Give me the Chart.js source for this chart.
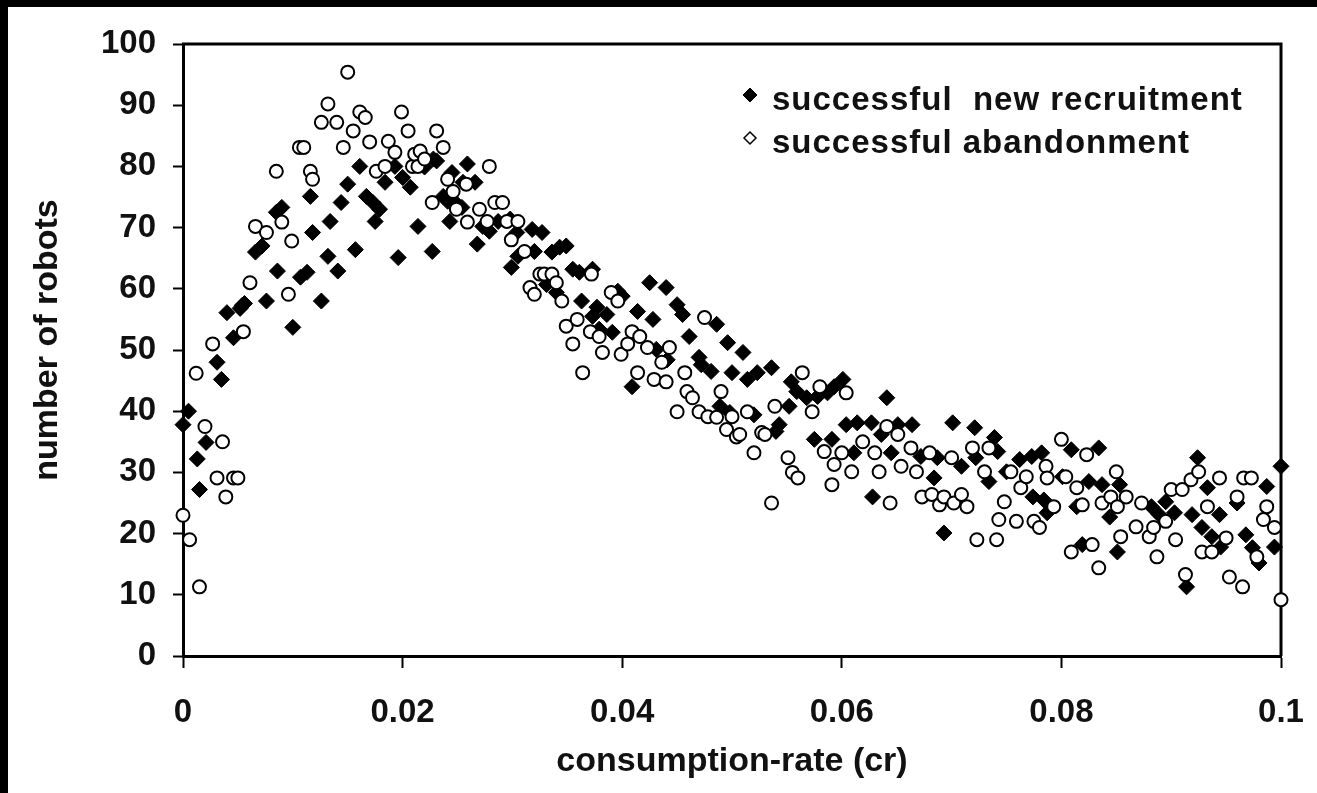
<!DOCTYPE html>
<html lang="en">
<head>
    <meta charset="UTF-8">
    <title>number of robots vs consumption-rate</title>
    <script src="https://cdn.jsdelivr.net/npm/chart.js"></script>
    <style>
        html, body { margin: 0; padding: 0; background: #fff; overflow: hidden; }
        #wrap { position: relative; width: 1317px; height: 793px; }
    </style>
</head>
<body>
    <div id="wrap">
        <canvas id="robots-chart"></canvas>
    </div>

    <script>
        // [consumption-rate, number of robots]
        const recruitment = [
            [0.0000, 37.8], [0.0005, 40], [0.0013, 32.2], [0.0015, 27.2], [0.0021, 34.9], [0.0031, 48],
            [0.0035, 45.2], [0.0040, 56.1], [0.0046, 52], [0.0052, 56.8], [0.0054, 57.3], [0.0056, 57.6],
            [0.0066, 66], [0.0072, 67], [0.0076, 58], [0.0085, 72.5], [0.0086, 62.9], [0.0090, 73.3],
            [0.0100, 53.7], [0.0107, 61.9], [0.0113, 62.7], [0.0116, 75.1], [0.0118, 69.2], [0.0126, 58],
            [0.0132, 65.3], [0.0134, 71], [0.0141, 62.9], [0.0144, 74.1], [0.0150, 77.1], [0.0157, 66.4],
            [0.0161, 80], [0.0167, 75.1], [0.0173, 74.1], [0.0175, 71], [0.0179, 73], [0.0184, 77.4],
            [0.0193, 80], [0.0196, 65.1], [0.0200, 78.2], [0.0207, 76.6], [0.0214, 70.2], [0.0220, 79.9],
            [0.0227, 66.1], [0.0228, 81.2], [0.0231, 80.9], [0.0237, 75.1], [0.0241, 74.3], [0.0243, 71],
            [0.0245, 79], [0.0248, 74.1], [0.0254, 73.3], [0.0255, 77.4], [0.0259, 80.4], [0.0266, 77.4],
            [0.0268, 67.3], [0.0273, 70.2], [0.0279, 69.4], [0.0287, 71], [0.0298, 71.4], [0.0299, 63.5],
            [0.0304, 69.2], [0.0305, 65.3], [0.0318, 69.7], [0.0320, 66.1], [0.0327, 69.2], [0.0331, 60.7],
            [0.0336, 66], [0.0340, 59.4], [0.0343, 66.8], [0.0349, 67], [0.0355, 63.2], [0.0361, 62.7],
            [0.0363, 58], [0.0373, 63.2], [0.0373, 55.5], [0.0377, 57], [0.0379, 53.4], [0.0386, 55.8],
            [0.0391, 52.9], [0.0396, 59.6], [0.0400, 58.8], [0.0409, 44], [0.0414, 56.3], [0.0425, 61],
            [0.0428, 55], [0.0431, 50.1], [0.0440, 60.2], [0.0441, 48.4], [0.0450, 57.4], [0.0455, 55.8],
            [0.0461, 52.2], [0.0470, 48.8], [0.0472, 47.6], [0.0481, 46.5], [0.0486, 54.2], [0.0489, 40.8],
            [0.0496, 51.2], [0.0498, 39.8], [0.0500, 46.3], [0.0510, 49.6], [0.0514, 45.2], [0.0520, 39.4],
            [0.0523, 46.3], [0.0536, 47.1], [0.0540, 36.7], [0.0543, 37.8], [0.0552, 40.8], [0.0554, 44.8],
            [0.0559, 43.2], [0.0568, 42.2], [0.0575, 35.4], [0.0578, 42.4], [0.0587, 43], [0.0591, 35.4],
            [0.0593, 44], [0.0601, 45.2], [0.0604, 37.8], [0.0611, 33.2], [0.0614, 38.1], [0.0627, 38.1],
            [0.0628, 26], [0.0636, 36.2], [0.0641, 42.2], [0.0645, 33.2], [0.0651, 37.8], [0.0664, 37.8],
            [0.0672, 32.6], [0.0684, 29.1], [0.0687, 32.4], [0.0693, 20.1], [0.0701, 38.1], [0.0709, 31],
            [0.0721, 37.3], [0.0722, 32.4], [0.0734, 28.5], [0.0739, 35.7], [0.0742, 33.4], [0.0750, 30.1],
            [0.0762, 32.1], [0.0773, 32.6], [0.0774, 26], [0.0782, 33.2], [0.0784, 25.5], [0.0787, 23.4],
            [0.0801, 29.3], [0.0809, 33.7], [0.0814, 24.4], [0.0819, 18.2], [0.0825, 28.5], [0.0834, 34],
            [0.0837, 28], [0.0844, 22.7], [0.0851, 17], [0.0853, 28], [0.0882, 24.4], [0.0889, 23.1],
            [0.0895, 25.2], [0.0903, 23.4], [0.0914, 11.3], [0.0919, 23.1], [0.0924, 32.4], [0.0928, 21],
            [0.0933, 27.5], [0.0937, 19.5], [0.0944, 23.1], [0.0945, 17.8], [0.0960, 25], [0.0968, 19.8],
            [0.0974, 17.7], [0.0980, 15.2], [0.0987, 27.7], [0.0994, 17.8], [0.1000, 31]
        ];

        const abandonment = [
            [0.0000, 23], [0.0006, 19], [0.0012, 46.2], [0.0015, 11.3], [0.0020, 37.5], [0.0027, 51],
            [0.0031, 29.1], [0.0036, 35], [0.0039, 26], [0.0046, 29.1], [0.0050, 29.1], [0.0055, 53],
            [0.0061, 61], [0.0066, 70.2], [0.0076, 69.2], [0.0085, 79.2], [0.0090, 70.9], [0.0096, 59.1],
            [0.0099, 67.8], [0.0106, 83.1], [0.0110, 83.1], [0.0116, 79.2], [0.0118, 77.9], [0.0126, 87.2],
            [0.0132, 90.2], [0.0140, 87.2], [0.0146, 83.1], [0.0150, 95.4], [0.0155, 85.8], [0.0161, 88.9],
            [0.0166, 88], [0.0170, 84], [0.0176, 79.2], [0.0184, 80], [0.0187, 84.1], [0.0193, 82.3],
            [0.0199, 88.9], [0.0205, 85.8], [0.0209, 80], [0.0211, 82], [0.0214, 80], [0.0216, 82.5],
            [0.0220, 81.2], [0.0227, 74.1], [0.0231, 85.8], [0.0237, 83.1], [0.0241, 77.9], [0.0246, 75.9],
            [0.0249, 73], [0.0258, 77.1], [0.0259, 70.9], [0.0270, 73], [0.0277, 71], [0.0279, 80],
            [0.0284, 74.1], [0.0291, 74.1], [0.0295, 71], [0.0299, 68], [0.0305, 71], [0.0311, 66.1],
            [0.0316, 60.2], [0.0320, 59.1], [0.0325, 62.4], [0.0329, 62.4], [0.0336, 62.4], [0.0340, 61],
            [0.0345, 58], [0.0349, 53.9], [0.0355, 51], [0.0359, 55], [0.0364, 46.3], [0.0371, 53],
            [0.0372, 62.4], [0.0379, 52.2], [0.0382, 49.6], [0.0390, 59.4], [0.0396, 58], [0.0399, 49.3],
            [0.0405, 51], [0.0409, 53], [0.0414, 46.3], [0.0416, 52.2], [0.0423, 50.4], [0.0429, 45.2],
            [0.0436, 48], [0.0440, 44.8], [0.0443, 50.4], [0.0450, 39.9], [0.0457, 46.3], [0.0459, 43.2],
            [0.0464, 42.2], [0.0470, 39.9], [0.0475, 55.3], [0.0478, 39.1], [0.0486, 39], [0.0490, 43.2],
            [0.0495, 37], [0.0500, 39.1], [0.0504, 35.8], [0.0507, 36.2], [0.0514, 39.9], [0.0520, 33.2],
            [0.0527, 36.5], [0.0530, 36.2], [0.0536, 25], [0.0539, 40.8], [0.0551, 32.4], [0.0555, 30],
            [0.0560, 29.1], [0.0564, 46.3], [0.0573, 39.9], [0.0580, 44], [0.0584, 33.4], [0.0591, 28],
            [0.0593, 31.3], [0.0600, 33.2], [0.0604, 43], [0.0609, 30.1], [0.0619, 35], [0.0630, 33.2],
            [0.0634, 30.1], [0.0641, 37.5], [0.0644, 25], [0.0651, 36.2], [0.0654, 31], [0.0663, 34],
            [0.0668, 30.1], [0.0673, 26], [0.0680, 33.2], [0.0682, 26.4], [0.0689, 24.7], [0.0693, 26],
            [0.0700, 32.4], [0.0702, 25], [0.0709, 26.4], [0.0714, 24.4], [0.0719, 34], [0.0723, 19],
            [0.0730, 30.1], [0.0734, 34], [0.0741, 19], [0.0743, 22.3], [0.0748, 25.2], [0.0754, 30.1],
            [0.0759, 22], [0.0763, 27.5], [0.0768, 29.3], [0.0775, 22], [0.0780, 21], [0.0786, 31],
            [0.0787, 29.1], [0.0793, 24.4], [0.0800, 35.4], [0.0804, 29.3], [0.0809, 17], [0.0814, 27.5],
            [0.0819, 24.7], [0.0823, 32.9], [0.0828, 18.2], [0.0834, 14.4], [0.0837, 25], [0.0845, 26],
            [0.0850, 30.1], [0.0851, 24.4], [0.0854, 19.5], [0.0859, 26], [0.0868, 21.1], [0.0873, 25],
            [0.0880, 19.5], [0.0884, 21], [0.0887, 16.2], [0.0895, 22], [0.0900, 27.2], [0.0904, 19],
            [0.0910, 27.2], [0.0913, 13.3], [0.0918, 28.8], [0.0925, 30.1], [0.0928, 17], [0.0933, 24.4],
            [0.0937, 17], [0.0944, 29.1], [0.0950, 19.3], [0.0953, 12.9], [0.0960, 26], [0.0965, 11.3],
            [0.0966, 29.1], [0.0973, 29.1], [0.0978, 16.2], [0.0984, 22.3], [0.0987, 24.4], [0.0994, 21],
            [0.1000, 9.2]
        ];

        const seriesLabels = ['successful  new recruitment', 'successful abandonment'];
        const xTickLabels = ['0', '0.02', '0.04', '0.06', '0.08', '0.1'];
        const yTickLabels = ['0', '10', '20', '30', '40', '50', '60', '70', '80', '90', '100'];

        const toPoints = arr => arr.map(p => ({ x: p[0], y: p[1] }));

        Chart.defaults.font.family = "'Liberation Sans', Arial, sans-serif";
        Chart.defaults.font.weight = 'bold';
        Chart.defaults.color = '#000';

        // black frame strips, top/right box lines, y title and the in-plot legend
        const framePlugin = {
            id: 'frame',
            beforeDraw(chart) {
                const ctx = chart.ctx;
                ctx.save();
                ctx.fillStyle = '#fff';
                ctx.fillRect(0, 0, chart.width, chart.height);
                ctx.fillStyle = '#000';
                ctx.fillRect(0, 0, chart.width, 7);
                ctx.fillRect(0, 0, 8, chart.height);
                ctx.restore();
            },
            beforeDatasetsDraw(chart) {
                const { ctx, chartArea: a } = chart;
                ctx.save();
                ctx.strokeStyle = '#000';
                ctx.lineWidth = 3;
                ctx.beginPath();
                ctx.moveTo(a.left - 1, a.top);
                ctx.lineTo(a.right, a.top);
                ctx.lineTo(a.right, a.bottom);
                ctx.stroke();

                // y axis title, a little above the plot centre as in the original
                ctx.translate(48, (a.top + a.bottom) / 2 - 10);
                ctx.rotate(-Math.PI / 2);
                ctx.fillStyle = '#111';
                ctx.font = "bold 34px 'Liberation Sans', Arial, sans-serif";
                ctx.textAlign = 'center';
                ctx.textBaseline = 'middle';
                ctx.fillText('number of robots', 0, 0);
                ctx.restore();
            },
            afterDatasetsDraw(chart) {
                const { ctx, chartArea: a } = chart;
                const mx = a.left + 567;
                const tx = a.left + 589;
                ctx.save();
                ctx.fillStyle = '#000';
                ctx.strokeStyle = '#000';
                ctx.lineWidth = 1;
                ctx.beginPath();
                ctx.moveTo(mx - 7, a.top + 51);
                ctx.lineTo(mx, a.top + 44);
                ctx.lineTo(mx + 7, a.top + 51);
                ctx.lineTo(mx, a.top + 58);
                ctx.closePath();
                ctx.fill();
                ctx.stroke();

                ctx.fillStyle = '#fff';
                ctx.lineWidth = 1.5;
                ctx.beginPath();
                ctx.moveTo(mx - 6, a.top + 94);
                ctx.lineTo(mx, a.top + 88);
                ctx.lineTo(mx + 6, a.top + 94);
                ctx.lineTo(mx, a.top + 100);
                ctx.closePath();
                ctx.fill();
                ctx.stroke();

                ctx.fillStyle = '#111';
                ctx.font = "bold 33px 'Liberation Sans', Arial, sans-serif";
                ctx.textBaseline = 'alphabetic';
                ctx.textAlign = 'left';
                ctx.letterSpacing = '1px';
                ctx.fillText(seriesLabels[0], tx, a.top + 66);
                ctx.fillText(seriesLabels[1], tx, a.top + 109);
                ctx.restore();
            }
        };

        new Chart(document.getElementById('robots-chart'), {
            type: 'scatter',
            data: {
                datasets: [
                    {
                        label: seriesLabels[0],
                        data: toPoints(recruitment),
                        pointStyle: 'rectRot',
                        pointRadius: 8,
                        backgroundColor: '#000',
                        borderColor: '#000',
                        borderWidth: 1,
                        clip: false,
                        order: 1
                    },
                    {
                        label: seriesLabels[1],
                        data: toPoints(abandonment),
                        pointStyle: 'circle',
                        pointRadius: 6.5,
                        backgroundColor: '#fff',
                        borderColor: '#000',
                        borderWidth: 2,
                        clip: false,
                        order: 0
                    }
                ]
            },
            options: {
                responsive: true,
                maintainAspectRatio: false,
                animation: false,
                layout: { padding: { top: 44, right: 36, left: 0, bottom: 0 } },
                plugins: {
                    legend: { display: false },
                    tooltip: { enabled: false }
                },
                scales: {
                    x: {
                        type: 'linear',
                        min: 0,
                        max: 0.1,
                        afterBuildTicks(scale) {
                            scale.ticks = xTickLabels.map(t => ({ value: parseFloat(t) }));
                        },
                        afterFit(scale) {
                            scale.height = 137;
                            scale.paddingLeft = 0;
                            scale.paddingRight = 0;
                        },
                        ticks: {
                            font: { size: 33, weight: 'bold' },
                            color: '#111',
                            padding: 25,
                            maxRotation: 0,
                            callback: (v, i) => xTickLabels[i]
                        },
                        grid: {
                            drawOnChartArea: false,
                            drawTicks: true,
                            tickLength: 12,
                            tickWidth: 2,
                            tickColor: '#000'
                        },
                        border: { display: true, color: '#000', width: 3 },
                        title: {
                            display: true,
                            text: 'consumption-rate (cr)',
                            color: '#111',
                            font: { size: 34, weight: 'bold' },
                            padding: { top: 0, bottom: 11 }
                        }
                    },
                    y: {
                        type: 'linear',
                        min: 0,
                        max: 100,
                        afterBuildTicks(scale) {
                            scale.ticks = yTickLabels.map(t => ({ value: parseFloat(t) }));
                        },
                        afterFit(scale) {
                            scale.width = 183;
                        },
                        ticks: {
                            font: { size: 33, weight: 'bold' },
                            color: '#111',
                            padding: 17,
                            callback: (v, i) => yTickLabels[i]
                        },
                        grid: {
                            drawOnChartArea: false,
                            drawTicks: true,
                            tickLength: 10,
                            tickWidth: 2,
                            tickColor: '#000'
                        },
                        border: { display: true, color: '#000', width: 3 },
                        title: { display: false }
                    }
                }
            },
            plugins: [framePlugin]
        });
    </script>
</body>
</html>
